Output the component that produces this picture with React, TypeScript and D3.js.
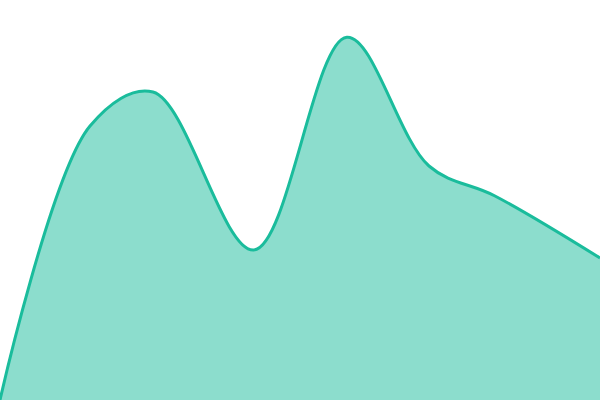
import { useEffect, useRef } from 'react';
import * as d3 from 'd3';

// Sample positions (0–100) and values (0–100)
const xValues = [0, 15, 25.5, 42.3, 57.8, 71.5, 82.5, 100];
const yValues = [0, 68.5, 77, 37.5, 90.7, 58.5, 51, 35.5];

const width = 600;
const height = 400;

export default function App() {
  const svgRef = useRef<SVGSVGElement>(null);

  useEffect(() => {
    if (!svgRef.current) return;
    const svg = d3.select(svgRef.current);
    svg.selectAll('*').remove();

    const x = d3.scaleLinear().domain([0, 100]).range([0, width]);
    const y = d3.scaleLinear().domain([0, 100]).range([height, 0]);

    const data = xValues.map((v, i) => ({ x: v, y: yValues[i] }));

    const area = d3.area<{ x: number; y: number }>()
      .x(d => x(d.x))
      .y0(y(0))
      .y1(d => y(d.y))
      .curve(d3.curveCatmullRom);

    const line = d3.line<{ x: number; y: number }>()
      .x(d => x(d.x))
      .y(d => y(d.y))
      .curve(d3.curveCatmullRom);

    svg.append('path')
      .datum(data)
      .attr('fill', 'rgba(26, 188, 156, 0.5)')
      .attr('d', area);

    svg.append('path')
      .datum(data)
      .attr('fill', 'none')
      .attr('stroke', '#1abc9c')
      .attr('stroke-width', 3)
      .attr('d', line);
  }, []);

  return (
    <div>
      <style>{`body { margin: 0; }`}</style>
      <svg ref={svgRef} width={width} height={height} style={{ display: 'block' }} />
    </div>
  );
}
